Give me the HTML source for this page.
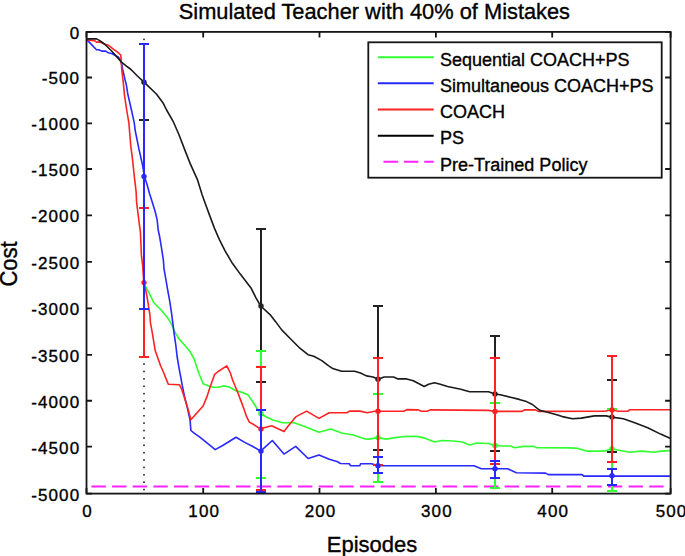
<!DOCTYPE html>
<html><head><meta charset="utf-8"><style>
html,body{margin:0;padding:0;background:#fff;width:685px;height:556px;overflow:hidden}
svg{display:block;position:absolute;left:0;top:0}
text{font-family:"Liberation Sans",sans-serif;fill:#000;stroke:#000;stroke-width:0.35px}
</style></head><body>
<svg width="685" height="556" viewBox="0 0 685 556">
<rect x="0" y="0" width="685" height="556" fill="#fff"/>

<g fill="#222"><rect x="143.2" y="38.6" width="1.6" height="1.6"/><rect x="143.2" y="45.98" width="1.6" height="1.6"/><rect x="143.2" y="53.36" width="1.6" height="1.6"/><rect x="143.2" y="60.74" width="1.6" height="1.6"/><rect x="143.2" y="68.12" width="1.6" height="1.6"/><rect x="143.2" y="75.5" width="1.6" height="1.6"/><rect x="143.2" y="82.88" width="1.6" height="1.6"/><rect x="143.2" y="90.26" width="1.6" height="1.6"/><rect x="143.2" y="97.64" width="1.6" height="1.6"/><rect x="143.2" y="105.02" width="1.6" height="1.6"/><rect x="143.2" y="112.4" width="1.6" height="1.6"/><rect x="143.2" y="119.78" width="1.6" height="1.6"/><rect x="143.2" y="127.16" width="1.6" height="1.6"/><rect x="143.2" y="134.54" width="1.6" height="1.6"/><rect x="143.2" y="141.92" width="1.6" height="1.6"/><rect x="143.2" y="149.3" width="1.6" height="1.6"/><rect x="143.2" y="156.68" width="1.6" height="1.6"/><rect x="143.2" y="164.06" width="1.6" height="1.6"/><rect x="143.2" y="171.44" width="1.6" height="1.6"/><rect x="143.2" y="178.82" width="1.6" height="1.6"/><rect x="143.2" y="186.2" width="1.6" height="1.6"/><rect x="143.2" y="193.58" width="1.6" height="1.6"/><rect x="143.2" y="200.96" width="1.6" height="1.6"/><rect x="143.2" y="208.34" width="1.6" height="1.6"/><rect x="143.2" y="215.72" width="1.6" height="1.6"/><rect x="143.2" y="223.1" width="1.6" height="1.6"/><rect x="143.2" y="230.48" width="1.6" height="1.6"/><rect x="143.2" y="237.86" width="1.6" height="1.6"/><rect x="143.2" y="245.24" width="1.6" height="1.6"/><rect x="143.2" y="252.62" width="1.6" height="1.6"/><rect x="143.2" y="260" width="1.6" height="1.6"/><rect x="143.2" y="267.38" width="1.6" height="1.6"/><rect x="143.2" y="274.76" width="1.6" height="1.6"/><rect x="143.2" y="282.14" width="1.6" height="1.6"/><rect x="143.2" y="289.52" width="1.6" height="1.6"/><rect x="143.2" y="296.9" width="1.6" height="1.6"/><rect x="143.2" y="304.28" width="1.6" height="1.6"/><rect x="143.2" y="311.66" width="1.6" height="1.6"/><rect x="143.2" y="319.04" width="1.6" height="1.6"/><rect x="143.2" y="326.42" width="1.6" height="1.6"/><rect x="143.2" y="333.8" width="1.6" height="1.6"/><rect x="143.2" y="341.18" width="1.6" height="1.6"/><rect x="143.2" y="348.56" width="1.6" height="1.6"/><rect x="143.2" y="355.94" width="1.6" height="1.6"/><rect x="143.2" y="363.32" width="1.6" height="1.6"/><rect x="143.2" y="370.7" width="1.6" height="1.6"/><rect x="143.2" y="378.08" width="1.6" height="1.6"/><rect x="143.2" y="385.46" width="1.6" height="1.6"/><rect x="143.2" y="392.84" width="1.6" height="1.6"/><rect x="143.2" y="400.22" width="1.6" height="1.6"/><rect x="143.2" y="407.6" width="1.6" height="1.6"/><rect x="143.2" y="414.98" width="1.6" height="1.6"/><rect x="143.2" y="422.36" width="1.6" height="1.6"/><rect x="143.2" y="429.74" width="1.6" height="1.6"/><rect x="143.2" y="437.12" width="1.6" height="1.6"/><rect x="143.2" y="444.5" width="1.6" height="1.6"/><rect x="143.2" y="451.88" width="1.6" height="1.6"/><rect x="143.2" y="459.26" width="1.6" height="1.6"/><rect x="143.2" y="466.64" width="1.6" height="1.6"/><rect x="143.2" y="474.02" width="1.6" height="1.6"/><rect x="143.2" y="481.4" width="1.6" height="1.6"/><rect x="143.2" y="488.78" width="1.6" height="1.6"/></g>
<line x1="91.4" y1="486.5" x2="668" y2="486.5" stroke="#ff22ff" stroke-width="2" stroke-dasharray="14.4 6.26"/>
<polyline fill="none" stroke="#30ff30" stroke-width="1.6" stroke-linejoin="round" points="144.5,284.5 148.9,292.7 153.9,302.8 161.4,310.3 167.7,317.9 171.5,324.2 175.2,332.6 179,338.9 184.7,345.2 190.3,352.1 194.1,359 198.8,373 203.1,383.7 208.8,385.9 213.2,387.3 218.2,387.3 223.2,385.9 229.3,387 235.8,390.8 242.3,392.4 248.2,395.1 252,400.5 256.3,407.5 260.6,413.5 266,416.7 272.3,419.8 282.5,422.7 294.2,422.7 305.9,427.1 319,432.2 330.7,428.9 342.4,433.2 352.6,434.7 360,437.3 365,439 368.8,439.1 378.2,437.6 386.3,439.1 395,437.6 406.7,436.2 418.4,436.6 425.7,438.4 434.5,442 441.8,440.5 453.4,441 462.3,442 469.6,444.9 476.9,443 488.6,443.5 494.7,445.4 501.7,446 510.5,446 514.9,447.8 523.6,446.4 533.8,446.4 536.8,447.8 570,447.9 578.1,448.4 586.2,451.1 604.8,451.1 611.7,448.7 618.5,450.3 629.9,452.2 641.2,451.1 654.1,452.2 660.6,451.1 670,450.6"/>
<polyline fill="none" stroke="#2828ff" stroke-width="1.6" stroke-linejoin="round" points="87,39.9 96.5,49.8 98.5,49.8 101.8,51.1 105.7,51.1 108.3,52.7 112.3,53.7 118.2,57 121,60.5 122.8,70 125.1,80 126.3,84.7 127.8,94 131,108 134.3,123.1 135.1,130 138.9,148.9 142.6,165.2 144.4,176.5 146.9,184 149.6,193.7 152.3,202.3 155,211 157.1,219.6 158.2,230 159.6,236.5 161.5,247.8 163.4,260.4 164,268.8 165.8,278.9 167.7,290.2 169.6,300.3 171.5,312.8 172.8,322.9 174,332.6 175.8,345.2 177.1,356.5 179,367.8 180.9,377.9 182.2,385.2 184.4,396 187.3,407.5 190.1,420.4 190.9,430.5 194.5,433.4 200.1,437.3 207.3,443.1 215.2,449.6 223.1,445.3 236,437.3 244.7,442.4 253.3,446.7 260.5,451 264.8,447.4 272.3,440.5 284,454.1 295.7,446.4 308.1,458.5 319,454.9 329.2,459.2 333.5,460.6 337,461.5 340.5,463.5 349.3,463.8 350.6,465.8 359.8,465.8 360.6,463.8 371.2,463.8 378.2,465.6 474,465.8 481.3,468.7 507.6,468.7 516.3,472.7 545.5,473.1 548.4,474.6 582.1,474.6 583.8,476.1 670,476.1"/>
<polyline fill="none" stroke="#ff2222" stroke-width="1.6" stroke-linejoin="round" points="87,39.9 94.5,40.6 96.5,42.2 99.8,41.9 104.4,43.9 108.3,45.2 113.6,49.4 116.9,51.7 120.8,55 121.2,61.6 121.8,70 123.4,83.6 124.6,96.2 126.7,110.2 128.9,123.1 130.7,145.1 132.6,160.2 134.5,177.8 136.1,191.6 136.6,202.3 137.7,211 139.3,223.9 140.4,232 141.4,255.4 142.6,265 143.2,273.8 143.8,282.6 145.9,291 147.6,300 148.9,308.8 149.9,315 150.4,322.6 152,331.2 153.6,340.9 155.2,350.6 157.9,358.2 160.6,365.7 163.9,373.3 165.2,376.6 168.3,384.2 179.4,384.7 181.5,388.8 184.4,397.4 188,408.9 190.9,419.7 196.6,413.2 203.1,406 206.7,397.4 210.3,386.6 214.6,374.4 218.2,371.5 226.8,365.8 230.4,373 232.6,380 235.3,386.5 238,393 241.2,401.6 244.4,410.2 246.6,416.7 249.3,422.1 254.2,424.8 260.6,429.1 265,427.5 271.6,425.7 284,431.5 288.4,425.7 295.7,416.9 306.6,411.1 319,418.4 329.2,412.8 346.8,412.8 349.7,411.1 359.9,411.1 367.3,412.8 374.6,411.3 403.8,411.3 406.7,409.6 418.4,409.9 421.3,411.3 427.2,411.3 430.1,409.9 488.6,410.4 494.7,411.4 522.2,411.4 524.3,409.9 535.3,409.9 538.2,411.4 604.6,411.2 611.5,409.8 617.8,411.2 628,411.2 629.5,409.8 670,409.8"/>
<polyline fill="none" stroke="#1a1a1a" stroke-width="1.6" stroke-linejoin="round" points="87,38.9 96.5,38.9 99.8,40.6 105,44.5 112.3,51.7 120.8,61.6 126.1,65.9 131,69.5 137.4,76 144,82.2 156.4,94 162.9,102.7 166.6,110 173.1,121.3 178.8,134.3 184.4,148.9 190.1,163.4 197.4,179.6 202.2,195 205.8,205.1 210.1,216.6 214.4,228.1 219.4,239.6 225.2,251.1 232.4,263.3 240.3,274.1 245.8,281.2 251.2,288.3 255.7,297.3 260.7,306 270,314.6 275.8,321.9 281.7,329.9 290.4,338.7 299.9,348.2 308,354.7 313.8,356.2 321.8,360.6 328.4,365.7 332.8,368.6 341.5,371.2 354.7,371.2 360.5,373 366.4,375.9 373.1,377 378.2,379.2 384.1,377 393.6,377 398,378.9 406.7,378.9 413.3,380.7 424.2,386.5 428.6,384.3 434.5,382.8 440.3,384.3 447.6,386.5 460.8,389.2 469.6,391.8 488.6,391.8 494.7,393.9 500.3,394.7 510.5,397.2 519.2,399.4 526.5,401.6 532.4,404.5 539.7,410.4 545.5,411.8 555,414.3 562.3,416.6 572.5,418.8 581.3,418.1 594.4,415.9 606.1,415.9 611.5,417.1 623.4,418.8 634.7,422.8 647.7,427.7 660.6,434.1 670,438.2"/>
<path fill="none" stroke="#222" stroke-width="2" shape-rendering="crispEdges" d="M144 43V121M138.8 44H149.2M138.8 120H149.2"/><circle cx="144" cy="82.2" r="2.7" fill="#222"/>
<path fill="none" stroke="#222" stroke-width="2" shape-rendering="crispEdges" d="M261 228V383M255.8 229H266.2M255.8 382H266.2"/><circle cx="261" cy="306" r="2.7" fill="#222"/>
<path fill="none" stroke="#222" stroke-width="2" shape-rendering="crispEdges" d="M378 305V451M372.8 306H383.2M372.8 450H383.2"/><circle cx="378" cy="379.2" r="2.7" fill="#222"/>
<path fill="none" stroke="#222" stroke-width="2" shape-rendering="crispEdges" d="M495 335V452M489.8 336H500.2M489.8 451H500.2"/><circle cx="495" cy="393.9" r="2.7" fill="#222"/>
<path fill="none" stroke="#222" stroke-width="2" shape-rendering="crispEdges" d="M612 379V453M606.8 380H617.2M606.8 452H617.2"/><circle cx="612" cy="417.1" r="2.7" fill="#222"/>
<path fill="none" stroke="#30ff30" stroke-width="2" shape-rendering="crispEdges" d="M261 350V479M255.8 351H266.2M255.8 478H266.2"/><circle cx="261" cy="413.8" r="2.7" fill="#30ff30"/>
<path fill="none" stroke="#30ff30" stroke-width="2" shape-rendering="crispEdges" d="M378 393V483M372.8 394H383.2M372.8 482H383.2"/><circle cx="378" cy="437.6" r="2.7" fill="#30ff30"/>
<path fill="none" stroke="#30ff30" stroke-width="2" shape-rendering="crispEdges" d="M495 402V489M489.8 403H500.2M489.8 488H500.2"/><circle cx="495" cy="445.4" r="2.7" fill="#30ff30"/>
<path fill="none" stroke="#30ff30" stroke-width="2" shape-rendering="crispEdges" d="M612 408V492M606.8 409H617.2M606.8 491H617.2"/><circle cx="612" cy="448.7" r="2.7" fill="#30ff30"/>
<path fill="none" stroke="#ff2222" stroke-width="2" shape-rendering="crispEdges" d="M144 207V358M138.8 208H149.2M138.8 357H149.2"/><circle cx="144" cy="282.6" r="2.7" fill="#ff2222"/>
<path fill="none" stroke="#ff2222" stroke-width="2" shape-rendering="crispEdges" d="M261 366V491M255.8 367H266.2M255.8 490H266.2"/><circle cx="261" cy="428.9" r="2.7" fill="#ff2222"/>
<path fill="none" stroke="#ff2222" stroke-width="2" shape-rendering="crispEdges" d="M378 357V466M372.8 358H383.2M372.8 465H383.2"/><circle cx="378" cy="411.3" r="2.7" fill="#ff2222"/>
<path fill="none" stroke="#ff2222" stroke-width="2" shape-rendering="crispEdges" d="M495 357V465M489.8 358H500.2M489.8 464H500.2"/><circle cx="495" cy="411.4" r="2.7" fill="#ff2222"/>
<path fill="none" stroke="#ff2222" stroke-width="2" shape-rendering="crispEdges" d="M612 355V463M606.8 356H617.2M606.8 462H617.2"/><circle cx="612" cy="409.9" r="2.7" fill="#ff2222"/>
<path fill="none" stroke="#2828ff" stroke-width="2" shape-rendering="crispEdges" d="M144 43V310M138.8 44H149.2M138.8 309H149.2"/><circle cx="144" cy="176.4" r="2.7" fill="#2828ff"/>
<path fill="none" stroke="#2828ff" stroke-width="2" shape-rendering="crispEdges" d="M261 409V493M255.8 410H266.2M255.8 492H266.2"/><circle cx="261" cy="451.1" r="2.7" fill="#2828ff"/>
<path fill="none" stroke="#2828ff" stroke-width="2" shape-rendering="crispEdges" d="M378 456V474M372.8 457H383.2M372.8 473H383.2"/><circle cx="378" cy="465.7" r="2.7" fill="#2828ff"/>
<path fill="none" stroke="#2828ff" stroke-width="2" shape-rendering="crispEdges" d="M495 460V479M489.8 461H500.2M489.8 478H500.2"/><circle cx="495" cy="468.7" r="2.7" fill="#2828ff"/>
<path fill="none" stroke="#2828ff" stroke-width="2" shape-rendering="crispEdges" d="M612 468V486M606.8 469H617.2M606.8 485H617.2"/><circle cx="612" cy="475.8" r="2.7" fill="#2828ff"/>
<rect x="86.5" y="31.9" width="584.1" height="461.7" fill="none" stroke="#151515" stroke-width="1.8"/>
<path fill="none" stroke="#151515" stroke-width="1.8" d="M86.5 493.6V488.1M86.5 31.9V37.4M203.2 493.6V488.1M203.2 31.9V37.4M319.5 493.6V488.1M319.5 31.9V37.4M435.9 493.6V488.1M435.9 31.9V37.4M552.2 493.6V488.1M552.2 31.9V37.4M670.6 493.6V488.1M670.6 31.9V37.4M86.5 31.9H92M670.6 31.9H665.1M86.5 77.5H92M670.6 77.5H665.1M86.5 123.4H92M670.6 123.4H665.1M86.5 169H92M670.6 169H665.1M86.5 215.4H92M670.6 215.4H665.1M86.5 261.8H92M670.6 261.8H665.1M86.5 308.3H92M670.6 308.3H665.1M86.5 354.8H92M670.6 354.8H665.1M86.5 400.75H92M670.6 400.75H665.1M86.5 446.7H92M670.6 446.7H665.1M86.5 493.6H92M670.6 493.6H665.1"/>
<text x="80.2" y="38.8" font-size="17" letter-spacing="1.1" text-anchor="end">0</text>
<text x="80.2" y="84.4" font-size="17" letter-spacing="1.1" text-anchor="end">-500</text>
<text x="80.2" y="130.3" font-size="17" letter-spacing="1.1" text-anchor="end">-1000</text>
<text x="80.2" y="175.9" font-size="17" letter-spacing="1.1" text-anchor="end">-1500</text>
<text x="80.2" y="222.3" font-size="17" letter-spacing="1.1" text-anchor="end">-2000</text>
<text x="80.2" y="268.7" font-size="17" letter-spacing="1.1" text-anchor="end">-2500</text>
<text x="80.2" y="315.2" font-size="17" letter-spacing="1.1" text-anchor="end">-3000</text>
<text x="80.2" y="361.7" font-size="17" letter-spacing="1.1" text-anchor="end">-3500</text>
<text x="80.2" y="407.65" font-size="17" letter-spacing="1.1" text-anchor="end">-4000</text>
<text x="80.2" y="453.6" font-size="17" letter-spacing="1.1" text-anchor="end">-4500</text>
<text x="80.2" y="500.5" font-size="17" letter-spacing="1.1" text-anchor="end">-5000</text>
<text x="87.5" y="516.8" font-size="17" letter-spacing="1.1" text-anchor="middle">0</text>
<text x="204.2" y="516.8" font-size="17" letter-spacing="1.1" text-anchor="middle">100</text>
<text x="320.5" y="516.8" font-size="17" letter-spacing="1.1" text-anchor="middle">200</text>
<text x="436.9" y="516.8" font-size="17" letter-spacing="1.1" text-anchor="middle">300</text>
<text x="553.2" y="516.8" font-size="17" letter-spacing="1.1" text-anchor="middle">400</text>
<text x="671.6" y="516.8" font-size="17" letter-spacing="1.1" text-anchor="middle">500</text>
<text transform="translate(374.4 18.5) scale(0.992 1.045)" x="0" y="0" font-size="22" text-anchor="middle">Simulated Teacher with 40% of Mistakes</text>
<text transform="translate(372 552.4) scale(1 1.035)" x="0" y="0" font-size="22" text-anchor="middle">Episodes</text>
<text transform="translate(17 264) rotate(-90) scale(1 1.07)" x="0" y="0" font-size="22" text-anchor="middle">Cost</text>
<rect x="368.3" y="42.3" width="293.4" height="135.4" fill="#fff" stroke="#151515" stroke-width="1.8"/>
<line x1="377.8" y1="57.2" x2="433.7" y2="57.2" stroke="#30ff30" stroke-width="2"/>
<text x="440" y="66" font-size="18">Sequential COACH+PS</text>
<line x1="377.8" y1="83.35" x2="433.7" y2="83.35" stroke="#2828ff" stroke-width="2"/>
<text x="440" y="92.15" font-size="18">Simultaneous COACH+PS</text>
<line x1="377.8" y1="109.5" x2="433.7" y2="109.5" stroke="#ff2222" stroke-width="2"/>
<text x="440" y="118.3" font-size="18">COACH</text>
<line x1="377.8" y1="135.65" x2="433.7" y2="135.65" stroke="#000" stroke-width="2"/>
<text x="440" y="144.45" font-size="18">PS</text>
<line x1="383.5" y1="161.8" x2="433.7" y2="161.8" stroke="#ff22ff" stroke-width="2" stroke-dasharray="14.4 6"/>
<text x="440" y="170.6" font-size="18">Pre-Trained Policy</text>
</svg></body></html>
